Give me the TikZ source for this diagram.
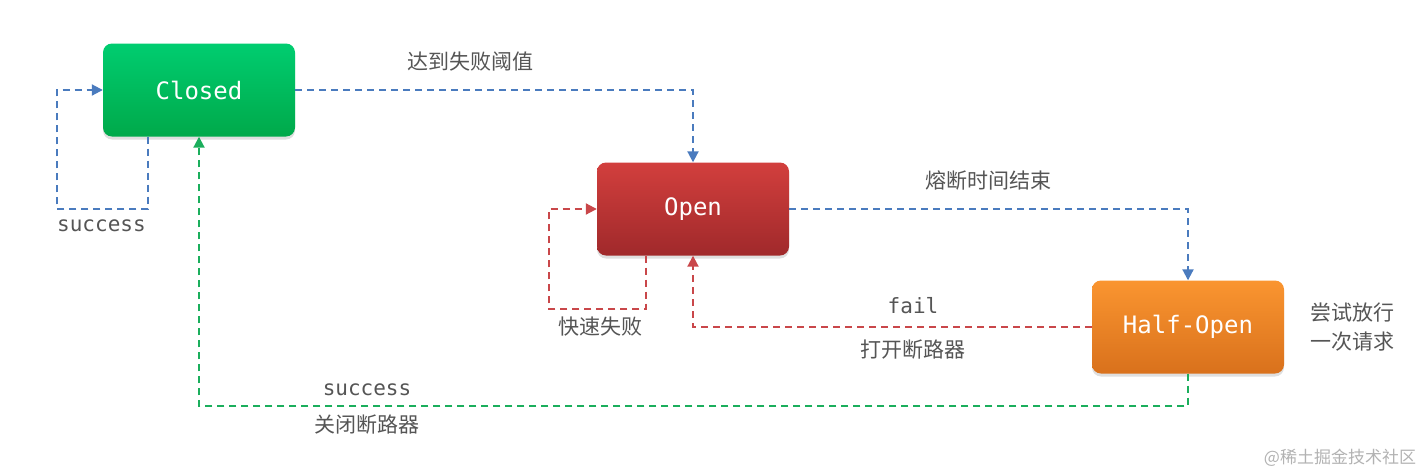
\documentclass[tikz,border=0pt]{standalone}
\usepackage{fontspec}
\setmonofont{DejaVu Sans Mono}
\newfontfamily\cjk{Noto Sans CJK SC}
\usetikzlibrary{arrows.meta,shadows}
\definecolor{gA}{HTML}{00CD70}
\definecolor{gB}{HTML}{00A94A}
\definecolor{rA}{HTML}{D23F3D}
\definecolor{rB}{HTML}{A0292B}
\definecolor{oA}{HTML}{FA9530}
\definecolor{oB}{HTML}{D9711C}
\definecolor{lblue}{HTML}{4A7BBE}
\definecolor{lred}{HTML}{C9474A}
\definecolor{lgreen}{HTML}{1BAE5C}
\definecolor{txt}{HTML}{555555}
\tikzset{
  state/.style={rounded corners=9pt, minimum width=192pt, minimum height=93pt,
    inner sep=0pt, text=white, font=\ttfamily\fontsize{24}{26}\selectfont,
    drop shadow={shadow xshift=0pt, shadow yshift=-3pt, opacity=0.25}},
  conn/.style={line width=2pt, dash pattern=on 7pt off 5pt, -{Triangle[length=11pt,width=11pt]}},
  mono/.style={text=txt, font=\ttfamily\fontsize{21}{24}\selectfont, inner sep=0pt},
  zh/.style={text=txt, font=\cjk\fontsize{21}{26}\selectfont, inner sep=0pt, align=center},
}
\begin{document}
\begin{tikzpicture}[x=1pt,y=-1pt]
\useasboundingbox (0,0) rectangle (1421,474);
\node[state, top color=gA, bottom color=gB] (closed) at (199,90) {Closed};
\node[state, top color=rA, bottom color=rB] (open) at (693,209) {Open};
\node[state, top color=oA, bottom color=oB] (half) at (1188,327) {Half-Open};

\coordinate (c1) at (148,209);
\coordinate (c2) at (57,209);
\coordinate (c3) at (57,90);
\draw[conn, lblue] (closed.south -| c1) -- (c1) -- (c2) -- (c3) -- (closed.west);
\node[mono, anchor=west] (lsucc1) at (57,226) {success};

\draw[conn, lblue] (closed.east) -| (open.north);
\node[zh] (lthr) at (470,62) {达到失败阈值};

\coordinate (o1) at (646,309);
\coordinate (o2) at (549,309);
\coordinate (o3) at (549,209);
\draw[conn, lred] (open.south -| o1) -- (o1) -- (o2) -- (o3) -- (open.west);
\node[zh] (lfast) at (600,327) {快速失败};

\draw[conn, lblue] (open.east) -| (half.north);
\node[zh] (lend) at (988,181) {熔断时间结束};

\draw[conn, lred] (half.west) -| (open.south);
\node[mono] (lfail) at (913,306) {fail};
\node[zh] (lopen) at (913,350) {打开断路器};

\coordinate (h1) at (1188,406);
\draw[conn, lgreen] (half.south) -- (h1) -| (closed.south);
\node[mono] (lsucc2) at (367,390) {success};
\node[zh] (lclose) at (367,425) {关闭断路器};

\node[zh, font=\cjk\fontsize{21}{29}\selectfont] (ltry) at (1352,327) {尝试放行\\一次请求};
\node[text=black!30, font=\cjk\fontsize{17}{20}\selectfont, inner sep=0pt] (wm) at (1340,458) {@稀土掘金技术社区};
\end{tikzpicture}
\end{document}
